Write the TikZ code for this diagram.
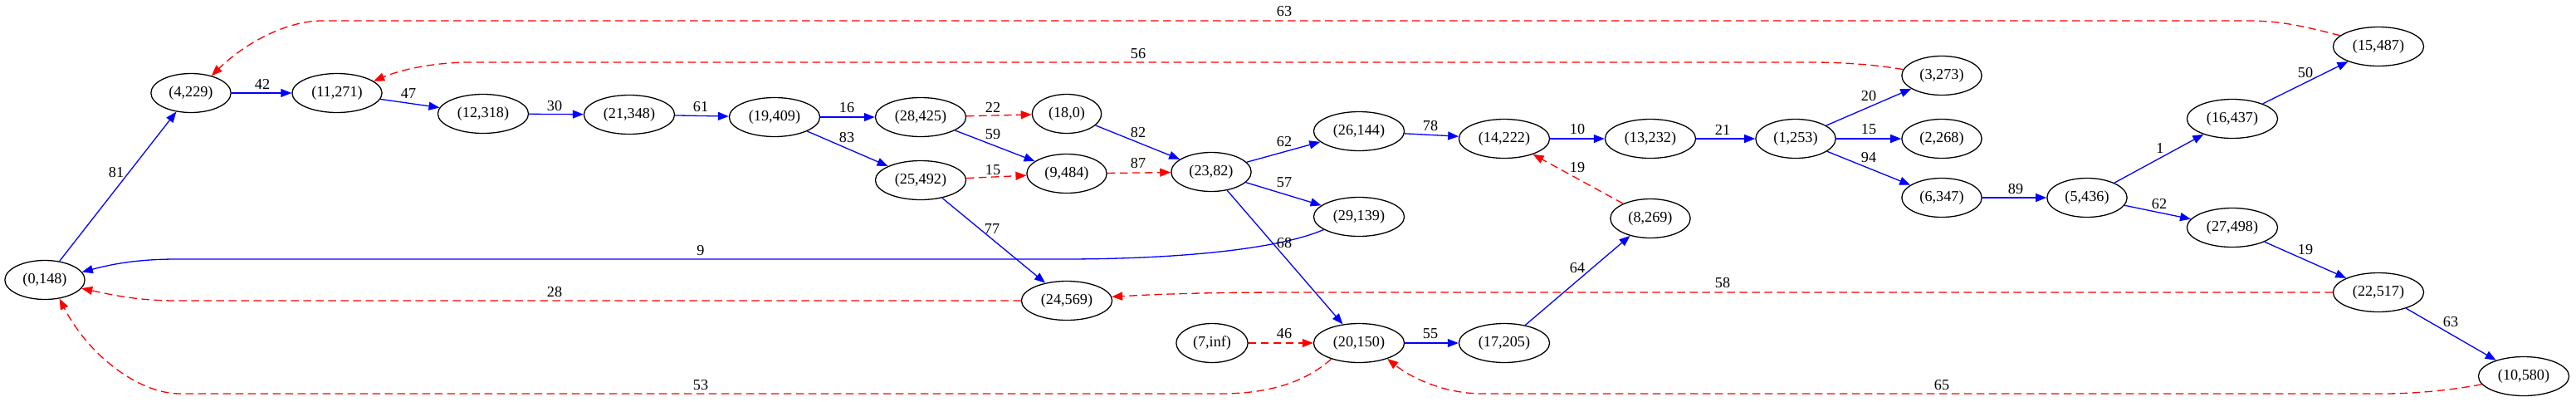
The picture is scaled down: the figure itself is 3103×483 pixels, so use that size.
\documentclass[tikz,border=0pt]{standalone}
\usepackage{fontspec}
\setmainfont{Liberation Serif}
\usetikzlibrary{arrows.meta,shapes.geometric}
\begin{document}
\begin{tikzpicture}[x=1pt,y=1pt,
  gnode/.style={draw=black, line width=1.3pt, ellipse, inner xsep=7.5pt, inner ysep=8pt,
    minimum height=47pt, font=\fontsize{18.2}{20}\selectfont},
  bedge/.style={draw=blue, line width=1.3pt, -{Triangle[length=13pt,width=10pt]}},
  redge/.style={draw=red, line width=1.3pt, dash pattern=on 9.5pt off 5.5pt,
    -{Triangle[length=13pt,width=10pt]}},
  elab/.style={font=\fontsize{18.2}{20}\selectfont, inner sep=0pt}]
\useasboundingbox (0,0) rectangle (3103,-483);
\fill[white] (0,0) rectangle (3103,-483);

% nodes
\node[gnode] (n0148)  at (54,-337)   {(0,148)};
\node[gnode] (n4229)  at (230,-112)  {(4,229)};
\node[gnode] (n11271) at (406,-112)  {(11,271)};
\node[gnode] (n12318) at (582,-137)  {(12,318)};
\node[gnode] (n21348) at (758,-138)  {(21,348)};
\node[gnode] (n19409) at (933,-141)  {(19,409)};
\node[gnode] (n28425) at (1109,-141) {(28,425)};
\node[gnode] (n180)   at (1285,-137) {(18,0)};
\node[gnode] (n25492) at (1109,-217) {(25,492)};
\node[gnode] (n9484)  at (1285,-209) {(9,484)};
\node[gnode] (n2382)  at (1459,-207) {(23,82)};
\node[gnode] (n24569) at (1285,-362) {(24,569)};
\node[gnode] (n7inf)  at (1460,-413) {(7,inf)};
\node[gnode] (n26144) at (1637,-158) {(26,144)};
\node[gnode] (n29139) at (1637,-261) {(29,139)};
\node[gnode] (n20150) at (1637,-413) {(20,150)};
\node[gnode] (n14222) at (1812,-167) {(14,222)};
\node[gnode] (n17205) at (1812,-413) {(17,205)};
\node[gnode] (n13232) at (1988,-167) {(13,232)};
\node[gnode] (n8269)  at (1988,-263) {(8,269)};
\node[gnode] (n1253)  at (2163,-167) {(1,253)};
\node[gnode] (n3273)  at (2339,-91)  {(3,273)};
\node[gnode] (n2268)  at (2339,-167) {(2,268)};
\node[gnode] (n6347)  at (2339,-238) {(6,347)};
\node[gnode] (n5436)  at (2514,-238) {(5,436)};
\node[gnode] (n16437) at (2689,-143) {(16,437)};
\node[gnode] (n27498) at (2689,-274) {(27,498)};
\node[gnode] (n15487) at (2865,-56)  {(15,487)};
\node[gnode] (n22517) at (2865,-352) {(22,517)};
\node[gnode] (n10580) at (3040,-453) {(10,580)};

% straight edges
\draw[bedge] (n0148) -- (n4229);
\draw[bedge] (n4229) -- (n11271);
\draw[bedge] (n11271) -- (n12318);
\draw[bedge] (n12318) -- (n21348);
\draw[bedge] (n21348) -- (n19409);
\draw[bedge] (n19409) -- (n28425);
\draw[bedge] (n19409) -- (n25492);
\draw[redge] (n28425) -- (n180);
\draw[bedge] (n28425) -- (n9484);
\draw[redge] (n25492) -- (n9484);
\draw[bedge] (n25492) -- (n24569);
\draw[bedge] (n180) -- (n2382);
\draw[redge] (n9484) -- (n2382);
\draw[bedge] (n2382) -- (n26144);
\draw[bedge] (n2382) -- (n29139);
\draw[bedge] (n2382) -- (n20150);
\draw[redge] (n7inf) -- (n20150);
\draw[bedge] (n20150) -- (n17205);
\draw[bedge] (n17205) -- (n8269);
\draw[redge] (n8269) -- (n14222);
\draw[bedge] (n26144) -- (n14222);
\draw[bedge] (n14222) -- (n13232);
\draw[bedge] (n13232) -- (n1253);
\draw[bedge] (n1253) -- (n3273);
\draw[bedge] (n1253) -- (n2268);
\draw[bedge] (n1253) -- (n6347);
\draw[bedge] (n6347) -- (n5436);
\draw[bedge] (n5436) -- (n16437);
\draw[bedge] (n5436) -- (n27498);
\draw[bedge] (n16437) -- (n15487);
\draw[bedge] (n27498) -- (n22517);
\draw[bedge] (n22517) -- (n10580);

% long curved edges
\draw[bedge] (n29139.200) .. controls (1540,-300) and (1420,-312) .. (1280,-312)
  -- (213,-312) .. controls (165,-312) and (135,-318) .. (n0148.12);
\draw[redge] (n24569.west) -- (213,-362) .. controls (165,-362) and (135,-355) .. (n0148.-13);
\draw[redge] (n20150.210) .. controls (1570,-462) and (1525,-474) .. (1470,-474)
  -- (217,-474) .. controls (165,-474) and (105,-425) .. (n0148.-52);
\draw[redge] (n10580.191) .. controls (2950,-470) and (2910,-474) .. (2870,-474)
  -- (1786,-474) .. controls (1740,-474) and (1700,-455) .. (n20150.-29);
\draw[redge] (n15487.164) .. controls (2780,-33) and (2750,-25) .. (2708,-25)
  -- (388,-25) .. controls (345,-25) and (295,-52) .. (n4229.40);
\draw[redge] (n3273.171) .. controls (2260,-78) and (2220,-75) .. (2183,-75)
  -- (567,-75) .. controls (525,-75) and (485,-83) .. (n11271.18);
\draw[redge] (n22517.west) -- (1560,-352) .. controls (1450,-352) and (1400,-354) .. (n24569.5);

% edge labels
\node[elab] (l81) at (140,-208) {81};
\node[elab] (l42) at (316,-101) {42};
\node[elab] (l47) at (492,-113) {47};
\node[elab] (l30) at (668,-128) {30};
\node[elab] (l61) at (844,-129) {61};
\node[elab] (l16) at (1020,-130) {16};
\node[elab] (l83) at (1020,-166) {83};
\node[elab] (l22) at (1196,-129) {22};
\node[elab] (l59) at (1196,-162) {59};
\node[elab] (l15a) at (1196,-205) {15};
\node[elab] (l77) at (1195,-276) {77};
\node[elab] (l82) at (1371,-160) {82};
\node[elab] (l87) at (1371,-197) {87};
\node[elab] (l62a) at (1547,-171) {62};
\node[elab] (l57) at (1547,-220) {57};
\node[elab] (l68) at (1547,-293) {68};
\node[elab] (l9) at (844,-302) {9};
\node[elab] (l46) at (1547,-402) {46};
\node[elab] (l55) at (1723,-402) {55};
\node[elab] (l64) at (1900,-323) {64};
\node[elab] (l19a) at (1900,-202) {19};
\node[elab] (l78) at (1723,-152) {78};
\node[elab] (l10) at (1900,-156) {10};
\node[elab] (l21) at (2075,-156) {21};
\node[elab] (l20) at (2251,-116) {20};
\node[elab] (l15b) at (2251,-156) {15};
\node[elab] (l94) at (2251,-190) {94};
\node[elab] (l89) at (2428,-228) {89};
\node[elab] (l1) at (2602,-178) {1};
\node[elab] (l62b) at (2601,-246) {62};
\node[elab] (l50) at (2777,-88) {50};
\node[elab] (l19b) at (2777,-301) {19};
\node[elab] (l63a) at (2952,-388) {63};
\node[elab] (l63b) at (1547,-14) {63};
\node[elab] (l56) at (1371,-65) {56};
\node[elab] (l28) at (668,-352) {28};
\node[elab] (l58) at (2075,-341) {58};
\node[elab] (l53) at (844,-464) {53};
\node[elab] (l65) at (2339,-464) {65};
\end{tikzpicture}
\end{document}
